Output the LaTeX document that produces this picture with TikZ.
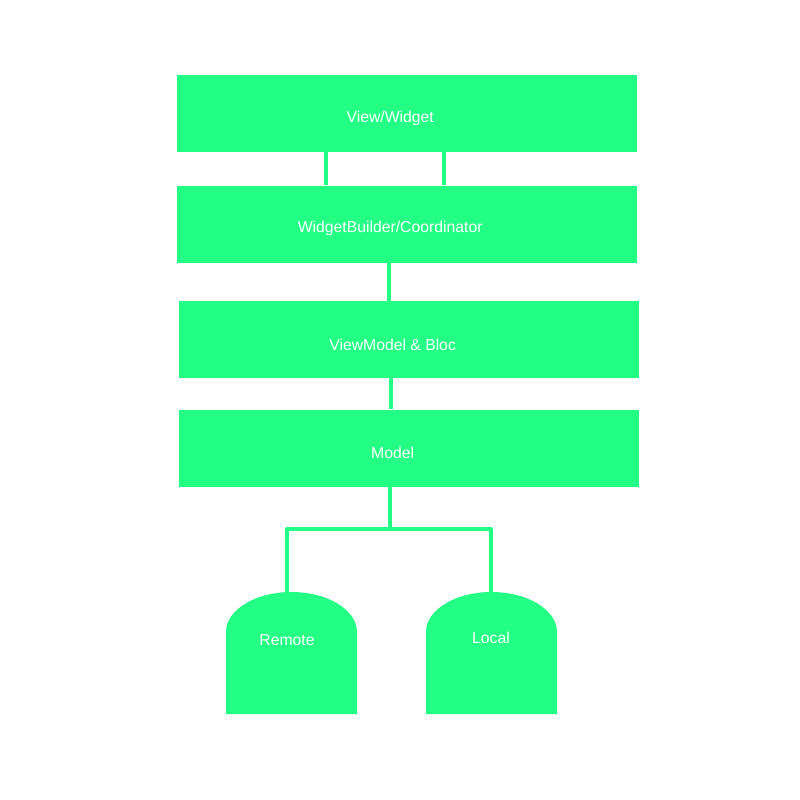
\documentclass[tikz,border=0pt]{standalone}
\usepackage{fontspec}
\setsansfont{Liberation Sans}
\usepackage{tikz}
\usetikzlibrary{positioning}
\definecolor{ngreen}{RGB}{34,255,132}
\tikzset{layer/.style={fill=ngreen,minimum width=11.5cm,minimum height=1.925cm,inner sep=0pt},
}

\begin{document}
\begin{tikzpicture}[wire/.style={draw=ngreen,line width=0.1cm},
lbl/.style={text=white,font=\sffamily\fontsize{11.2}{13}\selectfont,xshift=-0.42cm,yshift=-0.12cm},
db text/.style={text=white,font=\sffamily\fontsize{11.2}{13}\selectfont}]
\useasboundingbox (0,0) rectangle (20,-20);

\node[layer] (view) at (10.175,-2.8375) [label={[lbl]center:View/Widget}] {};
\node[layer] (wb) [below=0.825cm of view, label={[lbl]center:WidgetBuilder/Coordinator}] {};
\node[layer] (vm) [below=0.95cm of wb, xshift=0.06cm, label={[lbl]center:ViewModel \& Bloc}] {};
\node[layer] (model) [below=0.775cm of vm, label={[lbl]center:Model}] {};

% data sources
\fill[ngreen] (5.65,-17.85) -- (5.65,-15.8) arc[start angle=180,end angle=0,x radius=1.6375cm,y radius=1cm] -- (8.925,-17.85) -- cycle;
\fill[ngreen] (10.65,-17.85) -- (10.65,-15.8) arc[start angle=180,end angle=0,x radius=1.6375cm,y radius=1cm] -- (13.925,-17.85) -- cycle;
\node[db text] (remote) at (7.175,-16) {Remote};
\node[db text] (local) at (12.275,-15.95) {Local};
\coordinate (remote top) at (7.175,-14.82);
\coordinate (local top) at (12.275,-14.78);
\coordinate (fork) at ([xshift=-0.485cm,yshift=-1.05cm]model.south);

\draw[wire] ([xshift=-2.025cm]view.south) -- ([xshift=-2.025cm]wb.north);
\draw[wire] ([xshift=0.925cm]view.south) -- ([xshift=0.925cm]wb.north);
\draw[wire] ([xshift=-0.45cm]wb.south) -- ([xshift=-0.45cm]vm.north -| wb.south);
\draw[wire] ([xshift=-0.46cm]vm.south) -- ([xshift=-0.46cm]model.north);
\draw[wire] ([xshift=-0.485cm]model.south) -- (fork);
\draw[wire,line join=round,line cap=round] (remote top) |- (fork) -| (local top);
\end{tikzpicture}
\end{document}
